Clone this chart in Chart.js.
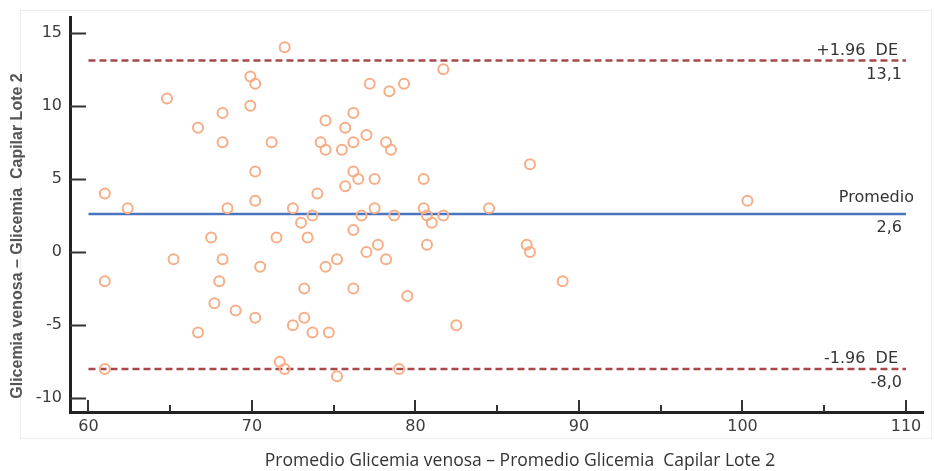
<!DOCTYPE html>
<html>
<head>
<meta charset="utf-8">
<script src="https://cdn.jsdelivr.net/npm/chart.js@4.4.1/dist/chart.umd.min.js"></script>
<style>
  html, body { margin: 0; padding: 0; background: #fff; }
  #wrap { width: 935px; height: 471px; }
</style>
</head>
<body>
<div id="wrap"><canvas id="myChart" width="935" height="471"></canvas></div>
<script>
// Bland-Altman data
const promedio = [72.0, 81.7, 69.9, 70.2, 77.2, 79.3, 78.4, 64.8, 69.9, 68.2,
                  76.2, 74.5, 66.7, 75.7, 77.0, 68.2, 71.2, 74.2, 76.2, 78.2,
                  74.5, 75.5, 78.5, 87.0, 70.2, 76.2, 76.5, 77.5, 80.5, 75.7,
                  61.0, 74.0, 70.2, 100.3, 62.4, 68.5, 72.5, 77.5, 80.5, 84.5,
                  73.7, 76.7, 78.7, 80.7, 81.7, 73.0, 81.0, 76.2, 67.5, 71.5,
                  73.4, 77.7, 80.7, 86.8, 77.0, 87.0, 65.2, 68.2, 75.2, 78.2,
                  70.5, 74.5, 61.0, 68.0, 89.0, 73.2, 76.2, 79.5, 67.7, 69.0,
                  70.2, 73.2, 72.5, 82.5, 66.7, 73.7, 74.7, 71.7, 61.0, 72.0,
                  79.0, 75.2];
const diferencia = [14.0, 12.5, 12.0, 11.5, 11.5, 11.5, 11.0, 10.5, 10.0, 9.5,
                    9.5, 9.0, 8.5, 8.5, 8.0, 7.5, 7.5, 7.5, 7.5, 7.5,
                    7.0, 7.0, 7.0, 6.0, 5.5, 5.5, 5.0, 5.0, 5.0, 4.5,
                    4.0, 4.0, 3.5, 3.5, 3.0, 3.0, 3.0, 3.0, 3.0, 3.0,
                    2.5, 2.5, 2.5, 2.5, 2.5, 2.0, 2.0, 1.5, 1.0, 1.0,
                    1.0, 0.5, 0.5, 0.5, 0.0, 0.0, -0.5, -0.5, -0.5, -0.5,
                    -1.0, -1.0, -2.0, -2.0, -2.0, -2.5, -2.5, -3.0, -3.5, -4.0,
                    -4.5, -4.5, -5.0, -5.0, -5.5, -5.5, -5.5, -7.5, -8.0, -8.0,
                    -8.0, -8.5];

const xTicks = [60, 70, 80, 90, 100, 110];
const xMinorTicks = [65, 75, 85, 95, 105];
const yTicks = [-10, -5, 0, 5, 10, 15];

const lineSpan = [60, 110];
const limitValues = [13.1, 2.6, -8.0];
const limitNames = ['+1.96  DE', 'Promedio', '-1.96  DE'];
const limitTexts = ['13,1', '2,6', '-8,0'];

const xTitle = 'Promedio Glicemia venosa \u2013 Promedio Glicemia  Capilar Lote 2';
const yTitle = 'Glicemia venosa \u2013 Glicemia  Capilar Lote 2';

const FONT = '"DejaVu Sans", Verdana, sans-serif';
const TITLE_FONT = '"Open Sans", "Noto Sans", sans-serif';

function spanLine(v) {
    return lineSpan.map(function(x) { return {x: x, y: v}; });
}

const extrasPlugin = {
    id: 'extras',
    beforeDraw(chart) {
        const ctx = chart.ctx;
        ctx.save();
        ctx.strokeStyle = '#ececec';
        ctx.lineWidth = 1;
        ctx.strokeRect(20.5, 10.5, 911, 428);
        ctx.restore();
    },
    afterDraw(chart) {
        const ctx = chart.ctx;
        const xs = chart.scales.x, ys = chart.scales.y;
        const area = chart.chartArea;
        ctx.save();
        // inward tick marks
        ctx.strokeStyle = '#333';
        ctx.lineWidth = 2;
        ctx.beginPath();
        yTicks.forEach(function(v) {
            const py = Math.round(ys.getPixelForValue(v)) + 0.5;
            ctx.moveTo(area.left, py);
            ctx.lineTo(area.left + 16, py);
        });
        xTicks.forEach(function(v) {
            const px = Math.round(xs.getPixelForValue(v));
            ctx.moveTo(px, area.bottom);
            ctx.lineTo(px, area.bottom - 12);
        });
        xMinorTicks.forEach(function(v) {
            const px = Math.round(xs.getPixelForValue(v));
            ctx.moveTo(px, area.bottom);
            ctx.lineTo(px, area.bottom - 7);
        });
        ctx.stroke();

        // labels of the reference lines
        ctx.fillStyle = '#333';
        ctx.font = '16px ' + FONT;
        ctx.textAlign = 'right';
        ctx.textBaseline = 'middle';
        const xr = xs.getPixelForValue(lineSpan[1]);
        limitValues.forEach(function(v, i) {
            const py = ys.getPixelForValue(v);
            const nameRight = i === 1 ? xr + 8 : xr - 8;
            ctx.fillText(limitNames[i], nameRight, py - (i === 1 ? 16 : 10));
            ctx.fillText(limitTexts[i], xr - 4, py + 14);
        });

        // axis titles
        ctx.fillStyle = '#333';
        ctx.textAlign = 'center';
        ctx.font = '17.5px ' + TITLE_FONT;
        ctx.fillText(xTitle, 520, 461);
        ctx.translate(18, 236);
        ctx.rotate(-Math.PI / 2);
        ctx.font = 'bold 16px "Liberation Sans", Arial, sans-serif';
        ctx.fillStyle = '#555';
        ctx.fillText(yTitle, 0, 0);
        ctx.restore();
    }
};

const ctx = document.getElementById('myChart').getContext('2d');
const myChart = new Chart(ctx, {
    type: 'scatter',
    data: {
        datasets: [{
            label: 'Diferencias',
            data: promedio.map(function(x, i) { return {x: x, y: diferencia[i]}; }),
            pointStyle: 'circle',
            pointRadius: 5,
            pointBorderWidth: 2,
            borderColor: '#f7ad86',
            backgroundColor: 'rgba(0,0,0,0)'
        }, {
            label: '+1.96 DE',
            data: spanLine(limitValues[0]),
            showLine: true,
            pointRadius: 0,
            borderColor: '#a8484a',
            borderWidth: 2.5,
            borderDash: [7, 4]
        }, {
            label: 'Promedio',
            data: spanLine(limitValues[1]),
            showLine: true,
            pointRadius: 0,
            borderColor: '#4a74bd',
            borderWidth: 2.5
        }, {
            label: '-1.96 DE',
            data: spanLine(limitValues[2]),
            showLine: true,
            pointRadius: 0,
            borderColor: '#a8484a',
            borderWidth: 2.5,
            borderDash: [7, 4]
        }]
    },
    options: {
        responsive: false,
        animation: false,
        devicePixelRatio: 1,
        layout: { padding: { top: 15, right: 12, bottom: 0, left: 0 } },
        plugins: {
            legend: { display: false },
            tooltip: { enabled: false }
        },
        scales: {
            x: {
                type: 'linear',
                min: 58.87,
                max: 111.04,
                afterBuildTicks: function(s) { s.ticks = xTicks.map(function(v) { return {value: v}; }); },
                afterFit: function(s) { s.height = 59; },
                grid: { display: false, drawTicks: false },
                border: { display: true, color: '#222', width: 3 },
                ticks: { padding: 5, color: '#3c3c3c', font: { family: FONT, size: 16 } }
            },
            y: {
                type: 'linear',
                min: -10.94,
                max: 16.03,
                afterBuildTicks: function(s) { s.ticks = yTicks.map(function(v) { return {value: v}; }); },
                afterFit: function(s) { s.width = 70; },
                grid: { display: false, drawTicks: false },
                border: { display: true, color: '#222', width: 3 },
                ticks: { padding: 8, color: '#3c3c3c', font: { family: FONT, size: 16 } }
            }
        }
    },
    plugins: [extrasPlugin]
});
</script>
</body>
</html>
